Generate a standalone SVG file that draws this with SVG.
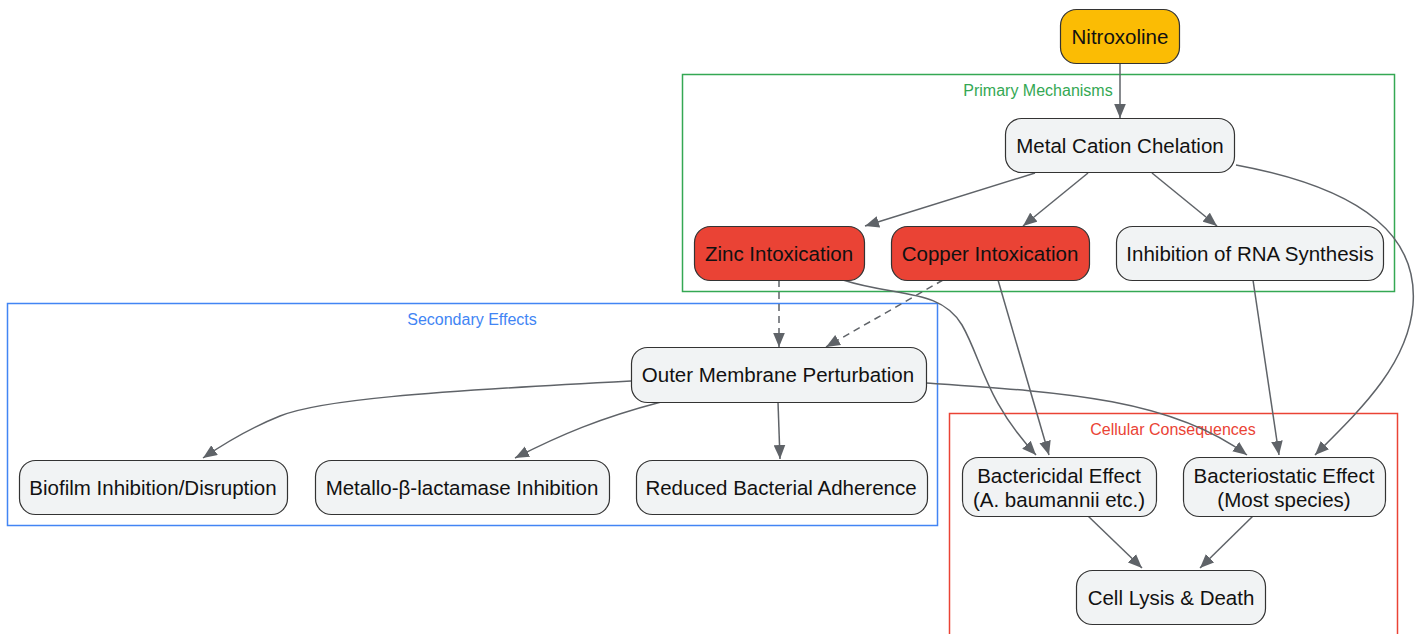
<svg xmlns="http://www.w3.org/2000/svg" width="1423" height="634" viewBox="0 0 1423 634">
<style>
.node rect{stroke:#333333;stroke-width:1.2}
.gray{fill:#F1F3F4}
.red{fill:#EA4335}
.yellow{fill:#FBBC04}
.t{font-family:"Liberation Sans",Arial,sans-serif;font-size:20.5px;fill:#111111;text-anchor:middle}
.cl{font-family:"Liberation Sans",Arial,sans-serif;font-size:16px;text-anchor:middle}
.e{fill:none;stroke:#5F6368;stroke-width:1.5}
.d{stroke-dasharray:7,5}
</style>
<defs>
<marker id="arr" markerUnits="userSpaceOnUse" viewBox="0 0 12 10" refX="12" refY="5" markerWidth="14" markerHeight="12" orient="auto">
<path d="M0,0 L12,5 L0,10 z" fill="#5F6368"/>
</marker>
</defs>
<rect width="1423" height="634" fill="#ffffff"/>
<g id="clusters">
<g id="primary"><rect x="682.5" y="74.5" width="712" height="217" fill="none" stroke="#34A853" stroke-width="1.5"/><text class="cl" x="1038" y="96" fill="#34A853">Primary Mechanisms</text></g>
<g id="secondary"><rect x="7.5" y="303.5" width="930" height="222" fill="none" stroke="#4285F4" stroke-width="1.5"/><text class="cl" x="472" y="325" fill="#4285F4">Secondary Effects</text></g>
<g id="cellular"><rect x="949.5" y="413.5" width="448" height="240" fill="none" stroke="#EA4335" stroke-width="1.5"/><text class="cl" x="1173" y="435" fill="#EA4335">Cellular Consequences</text></g>
</g>
<g id="connectors">
<path class="e" marker-end="url(#arr)" d="M1120,63 L1120,118"/>
<path class="e" marker-end="url(#arr)" d="M1035,173 L865,226"/>
<path class="e" marker-end="url(#arr)" d="M1088,173 L1023,226"/>
<path class="e" marker-end="url(#arr)" d="M1152,173 L1217,226"/>
<path class="e" marker-end="url(#arr)" d="M1236,165 C1370,190 1418,240 1413,305 C1408,365 1360,410 1315,455"/>
<path class="e" marker-end="url(#arr)" d="M1253,280 L1279,455"/>
<path class="e d" marker-end="url(#arr)" d="M779,280 L779,347"/>
<path class="e d" marker-end="url(#arr)" d="M943,280 L826,347"/>
<path class="e" marker-end="url(#arr)" d="M843,280 C895,297 940,288 962,325 C982,360 985,400 1036,455"/>
<path class="e" marker-end="url(#arr)" d="M998,280 L1049,455"/>
<path class="e" marker-end="url(#arr)" d="M926,383 C1060,392 1170,398 1247,455"/>
<path class="e" marker-end="url(#arr)" d="M631,381 C420,392 320,400 280,416 C250,428 225,443 203,458"/>
<path class="e" marker-end="url(#arr)" d="M661,402 C600,418 560,435 515,458"/>
<path class="e" marker-end="url(#arr)" d="M778,402 L780,459"/>
<path class="e" marker-end="url(#arr)" d="M1088,516 L1142,568"/>
<path class="e" marker-end="url(#arr)" d="M1253,516 L1200,568"/>
</g>
<g id="n-nitroxoline" class="node"><rect class="yellow" x="1060.5" y="9.5" width="119" height="54" rx="16"/><text class="t" x="1120" y="44">Nitroxoline</text></g>
<g id="n-chelation" class="node"><rect class="gray" x="1005.5" y="118.5" width="229" height="54" rx="16"/><text class="t" x="1120" y="153">Metal Cation Chelation</text></g>
<g id="n-zinc" class="node"><rect class="red" x="694.5" y="226.5" width="170" height="54" rx="16"/><text class="t" x="779" y="261">Zinc Intoxication</text></g>
<g id="n-copper" class="node"><rect class="red" x="891.5" y="226.5" width="198" height="54" rx="16"/><text class="t" x="990" y="261">Copper Intoxication</text></g>
<g id="n-rna" class="node"><rect class="gray" x="1116.5" y="226.5" width="267" height="54" rx="16"/><text class="t" x="1250" y="261">Inhibition of RNA Synthesis</text></g>
<g id="n-outer" class="node"><rect class="gray" x="631.5" y="347.5" width="295" height="55" rx="16"/><text class="t" x="778" y="382">Outer Membrane Perturbation</text></g>
<g id="n-biofilm" class="node"><rect class="gray" x="19.5" y="460.5" width="268" height="54" rx="16"/><text class="t" x="153" y="495">Biofilm Inhibition/Disruption</text></g>
<g id="n-mbl" class="node"><rect class="gray" x="315.5" y="460.5" width="294" height="54" rx="16"/><text class="t" x="462" y="495">Metallo-β-lactamase Inhibition</text></g>
<g id="n-adherence" class="node"><rect class="gray" x="636.5" y="460.5" width="291" height="54" rx="16"/><text class="t" x="781" y="495">Reduced Bacterial Adherence</text></g>
<g id="n-bactericidal" class="node"><rect class="gray" x="962.5" y="457.5" width="194" height="59" rx="16"/><text class="t" x="1059" y="483">Bactericidal Effect</text><text class="t" x="1059" y="507">(A. baumannii etc.)</text></g>
<g id="n-bacteriostatic" class="node"><rect class="gray" x="1183.5" y="457.5" width="202" height="59" rx="16"/><text class="t" x="1284" y="483">Bacteriostatic Effect</text><text class="t" x="1284" y="507">(Most species)</text></g>
<g id="n-lysis" class="node"><rect class="gray" x="1076.5" y="570.5" width="189" height="54" rx="16"/><text class="t" x="1171" y="605">Cell Lysis &amp; Death</text></g>
</svg>
